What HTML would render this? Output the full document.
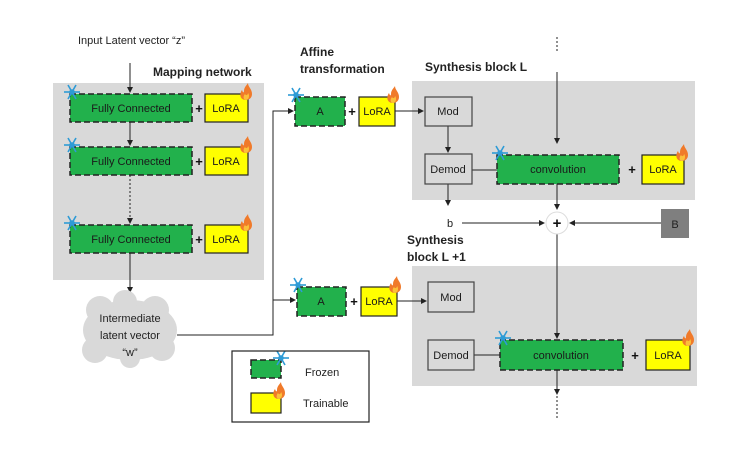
<!DOCTYPE html>
<html><head><meta charset="utf-8"><style>
html,body{margin:0;padding:0;background:#fff;}
svg{display:block;font-family:"Liberation Sans",sans-serif;}
</style></head><body>
<svg width="745" height="453" viewBox="0 0 745 453" xmlns="http://www.w3.org/2000/svg">
<defs>
<marker id="ar" markerWidth="6" markerHeight="6" refX="5" refY="3" orient="auto"><path d="M0,0 L6,3 L0,6 z" fill="#222"/></marker>
<g id="snow" stroke="#2e9bd6" stroke-width="1.6" fill="none">
<line x1="-8" y1="0" x2="8" y2="0"/><line x1="-4" y1="-7" x2="4" y2="7"/><line x1="-4" y1="7" x2="4" y2="-7"/>
<circle r="2" fill="#2e9bd6"/>
</g>
<g id="fire"><path d="M0,8 C-6,8 -7,2 -4,-2 C-3,1 -2,1 -2,-1 C-2,-5 1,-7 2,-9 C2,-5 6,-3 6,2 C6,6 3,8 0,8 z" fill="#f07a2a"/><path d="M0,8 C-3,8 -3,4 -1,2 C0,4 2,3 2,1 C4,3 3,8 0,8 z" fill="#fbc03a"/></g>
</defs>
<g font-size="11" fill="#222">
<text x="78" y="44">Input Latent vector “z”</text>
</g>
<g font-size="12" font-weight="bold" fill="#222">
<text x="153" y="76">Mapping network</text>
<text x="300" y="56">Affine</text>
<text x="300" y="73">transformation</text>
<text x="425" y="71">Synthesis block L</text>
<text x="407" y="244">Synthesis</text>
<text x="407" y="261">block L +1</text>
</g>
<!-- gray boxes -->
<rect x="53" y="83" width="211" height="197" fill="#d9d9d9"/>
<rect x="412" y="81" width="283" height="119" fill="#d9d9d9"/>
<rect x="412" y="266" width="285" height="120" fill="#d9d9d9"/>
<!-- connectors -->
<g stroke="#222" stroke-width="1" fill="none">
<line x1="130" y1="63" x2="130" y2="92" marker-end="url(#ar)"/>
<line x1="130" y1="122" x2="130" y2="145" marker-end="url(#ar)"/>
<line x1="130" y1="175" x2="130" y2="223" stroke-dasharray="2,2" marker-end="url(#ar)"/>
<line x1="130" y1="253" x2="130" y2="292" marker-end="url(#ar)"/>
<polyline points="177,335 273,335 273,111 293,111" marker-end="url(#ar)"/>
<polyline points="273,300 295,300" marker-end="url(#ar)"/>
<line x1="395" y1="111" x2="423" y2="111" marker-end="url(#ar)"/>
<line x1="448" y1="126" x2="448" y2="152" marker-end="url(#ar)"/>
<line x1="472" y1="170" x2="497" y2="170"/>
<line x1="448" y1="184" x2="448" y2="205" marker-end="url(#ar)"/>
<line x1="557" y1="37" x2="557" y2="53" stroke-dasharray="2,2"/>
<line x1="557" y1="72" x2="557" y2="143" marker-end="url(#ar)"/>
<line x1="557" y1="184" x2="557" y2="209" marker-end="url(#ar)"/>
<line x1="462" y1="223" x2="544" y2="223" marker-end="url(#ar)"/>
<line x1="661" y1="223" x2="570" y2="223" marker-end="url(#ar)"/>
<line x1="557" y1="234" x2="557" y2="338" marker-end="url(#ar)"/>
<line x1="397" y1="301" x2="426" y2="301" marker-end="url(#ar)"/>
<line x1="474" y1="355" x2="500" y2="355"/>
<line x1="557" y1="370" x2="557" y2="394" marker-end="url(#ar)"/>
<line x1="557" y1="396" x2="557" y2="420" stroke-dasharray="2,2"/>
</g>
<circle cx="557" cy="223" r="11" fill="#fff" stroke="#ddd"/>
<text x="557" y="228" font-size="15" font-weight="bold" text-anchor="middle" fill="#111">+</text>
<text x="447" y="227" font-size="11" fill="#222">b</text>
<rect x="661" y="209" width="28" height="29" fill="#7f7f7f"/>
<text x="675" y="228" font-size="11" text-anchor="middle" fill="#222">B</text>
<!-- green / yellow -->
<g stroke="#222" stroke-width="1.5" stroke-dasharray="6,3" fill="#22b14c">
<rect x="70" y="94" width="122" height="28"/>
<rect x="70" y="147" width="122" height="28"/>
<rect x="70" y="225" width="122" height="28"/>
<rect x="295" y="97" width="50" height="29"/>
<rect x="297" y="287" width="49" height="29"/>
<rect x="497" y="155" width="122" height="29"/>
<rect x="500" y="340" width="123" height="30"/>
<rect x="251" y="360" width="30" height="18"/>
</g>
<g stroke="#222" stroke-width="1.2" fill="#ffff00">
<rect x="205" y="94" width="43" height="28"/>
<rect x="205" y="147" width="43" height="28"/>
<rect x="205" y="225" width="43" height="28"/>
<rect x="359" y="97" width="36" height="29"/>
<rect x="361" y="287" width="36" height="29"/>
<rect x="642" y="155" width="42" height="29"/>
<rect x="646" y="340" width="44" height="30"/>
<rect x="251" y="393" width="30" height="20"/>
</g>
<g stroke="#444" stroke-width="1.2" fill="#d9d9d9">
<rect x="425" y="97" width="47" height="29"/>
<rect x="425" y="154" width="47" height="30"/>
<rect x="428" y="282" width="46" height="30"/>
<rect x="428" y="340" width="46" height="30"/>
</g>
<g font-size="11" fill="#1a1a1a" text-anchor="middle">
<text x="131" y="112">Fully Connected</text>
<text x="131" y="165">Fully Connected</text>
<text x="131" y="243">Fully Connected</text>
<text x="226" y="112">LoRA</text><text x="226" y="165">LoRA</text><text x="226" y="243">LoRA</text>
<text x="320" y="115">A</text><text x="321" y="305">A</text>
<text x="377" y="115">LoRA</text><text x="379" y="305">LoRA</text>
<text x="558" y="173">convolution</text><text x="561" y="359">convolution</text>
<text x="663" y="173">LoRA</text><text x="668" y="359">LoRA</text>
<text x="448" y="115">Mod</text><text x="448" y="173">Demod</text>
<text x="451" y="301">Mod</text><text x="451" y="359">Demod</text>
</g>
<g font-size="13" font-weight="bold" fill="#111" text-anchor="middle">
<text x="199" y="113">+</text><text x="199" y="166">+</text><text x="199" y="244">+</text>
<text x="352" y="116">+</text><text x="354" y="306">+</text>
<text x="632" y="174">+</text><text x="635" y="360">+</text>
</g>
<!-- icons -->
<use href="#snow" x="72" y="92"/><use href="#snow" x="72" y="145"/><use href="#snow" x="72" y="223"/>
<use href="#snow" x="296" y="95"/><use href="#snow" x="298" y="285"/>
<use href="#snow" x="500" y="153"/><use href="#snow" x="503" y="338"/><use href="#snow" x="281" y="358"/>
<use href="#fire" x="246" y="92"/><use href="#fire" x="246" y="145"/><use href="#fire" x="246" y="223"/>
<use href="#fire" x="393" y="95"/><use href="#fire" x="395" y="285"/>
<use href="#fire" x="682" y="153"/><use href="#fire" x="688" y="338"/><use href="#fire" x="279" y="391"/>
<!-- cloud -->
<g fill="#d9d9d9">
<ellipse cx="130" cy="330" rx="47" ry="30"/>
<circle cx="100" cy="310" r="14"/><circle cx="125" cy="302" r="12"/><circle cx="155" cy="310" r="14"/>
<circle cx="95" cy="350" r="13"/><circle cx="130" cy="358" r="10"/><circle cx="162" cy="348" r="13"/>
</g>
<g font-size="11" fill="#222" text-anchor="middle">
<text x="130" y="322">Intermediate</text>
<text x="130" y="339">latent vector</text>
<text x="130" y="356">“w”</text>
</g>
<!-- legend -->
<rect x="232" y="351" width="137" height="71" fill="none" stroke="#222" stroke-width="1.2"/>
<text x="305" y="376" font-size="11" fill="#222">Frozen</text>
<text x="303" y="407" font-size="11" fill="#222">Trainable</text>
</svg>
</body></html>
